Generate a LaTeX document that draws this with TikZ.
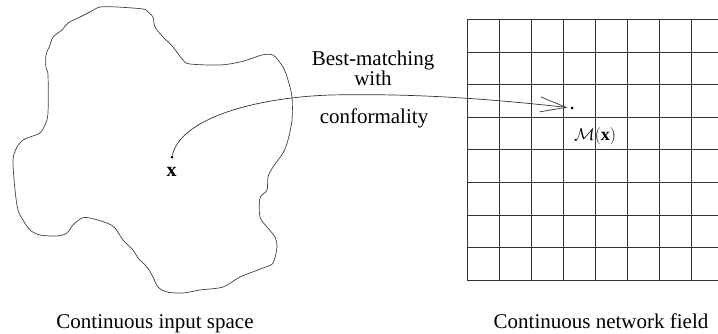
\documentclass[tikz,border=0pt]{standalone}
\usepackage{fontspec}
\setmainfont{Liberation Serif}
\usetikzlibrary{arrows.meta}
\begin{document}
\begin{tikzpicture}[x=1pt,y=-1pt,
  outline/.style={line width=0.7pt, black!75},
  gridline/.style={line width=0.7pt, black!80},
  dotnode/.style={circle, fill=black, inner sep=0pt, minimum size=3pt},
  lbl/.style={font=\fontsize{21}{24}\selectfont, inner sep=0pt},
  conn/.style={line width=0.7pt, black!80, -{Straight Barb[length=26pt,width=15pt,line width=0.7pt]}, shorten >=3pt}]
\useasboundingbox (0,0) rectangle (718,333);
% input space outline
\draw[outline] plot[smooth cycle, tension=0.5] coordinates {
(100,7) (117,7) (143,9) (148,12) (153,17) (155,27) (163,37) (173,47) (183,60)
(190,64) (220,65) (240,62) (253,58) (262,55) (273,55) (283,67) (288,80) (292,97)
(292,120) (288,140) (283,153) (273,167) (268,177) (267,190) (260,198) (260,217)
(267,227) (275,237) (277,247) (273,263) (263,268) (240,277) (223,287) (200,290)
(183,293) (167,292) (158,287) (153,277) (147,267) (138,258) (133,250) (123,240)
(115,228) (107,223) (90,218) (82,218) (73,225) (67,233) (57,236) (40,235) (30,230)
(23,220) (18,210) (15,190) (13,160) (17,147) (23,140) (30,137) (40,133) (45,125)
(48,113) (48,75) (46,68) (46,55) (50,45) (53,37) (62,30) (68,23) (80,17) (90,12)};
% network field grid
\foreach \i in {0,...,7} {
  \draw[gridline] ({467+32.1*\i},19.3) -- ({467+32.1*\i},280);
}
\foreach \j in {0,...,8} {
  \draw[gridline] (467,{19.3+32.6*\j}) -- (718,{19.3+32.6*\j});
}
% points
\node[dotnode] (x) at (172,157) {};
\node[dotnode] (m) at (572,108) {};
\node[inner sep=0pt] (xl) at (171.5,172) {\fontsize{20}{24}\selectfont$\mathbf{x}$};
\node[inner sep=0pt] (ml) at (595,136) {\fontsize{18}{22}\selectfont$\mathcal{M}(\mathbf{x})$};
% mapping arrow
\draw[conn] (x) .. controls (180,120) and (250,98) .. (330,95)
  .. controls (420,93) and (500,100) .. (m);
% labels
\node[lbl, anchor=base] (t1) at (373,65) {Best-matching};
\node[lbl, anchor=base] (t2) at (373,85) {with};
\node[lbl, anchor=base] (t3) at (374,123) {conformality};
\node[lbl, anchor=base] (c1) at (155,328) {Continuous input space};
\node[lbl, anchor=base] (c2) at (601,328) {Continuous network field};
\end{tikzpicture}
\end{document}
